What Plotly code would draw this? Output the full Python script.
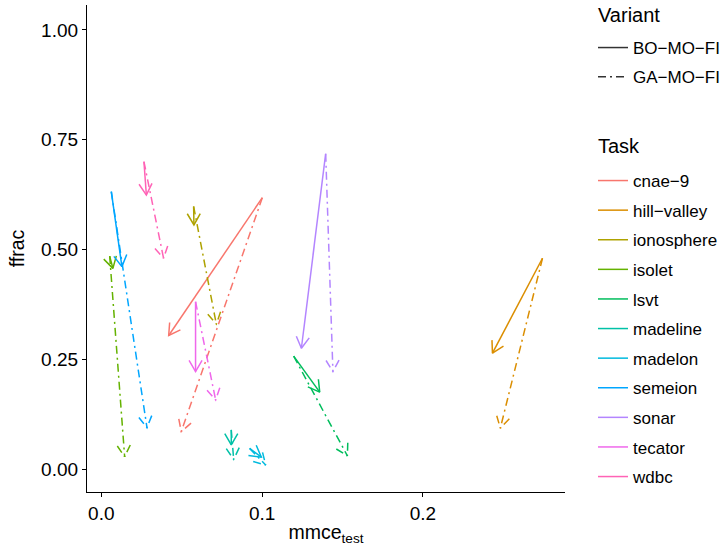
import math
import plotly.graph_objects as go

# ---------------- data ----------------
tasks = ["cnae−9", "hill−valley", "ionosphere", "isolet", "lsvt", "madeline",
         "madelon", "semeion", "sonar", "tecator", "wdbc"]
colors = ["#F8766D", "#DB8E00", "#AEA200", "#64B200", "#00BD5C", "#00C1A7",
          "#00BADE", "#00A6FF", "#B385FF", "#EF67EB", "#FF63B6"]
# start point (shared by both variants)
start_x = [0.1001, 0.2743, 0.0574, 0.0052, 0.1196, 0.0808, 0.0922, 0.0062, 0.1395, 0.0586, 0.0265]
start_y = [0.618, 0.480, 0.598, 0.485, 0.257, 0.089, 0.047, 0.632, 0.718, 0.381, 0.700]
# end points, variant BO-MO-FI (solid)
bo_x = [0.0419, 0.2432, 0.0576, 0.0072, 0.1358, 0.0808, 0.0995, 0.0128, 0.1244, 0.0586, 0.0280]
bo_y = [0.304, 0.264, 0.556, 0.457, 0.175, 0.055, 0.027, 0.461, 0.275, 0.222, 0.624]
# end points, variant GA-MO-FI (dot-dash)
ga_x = [0.0497, 0.2481, 0.0715, 0.0145, 0.1530, 0.0823, 0.1022, 0.0284, 0.1440, 0.0711, 0.0387]
ga_y = [0.085, 0.093, 0.330, 0.028, 0.030, 0.022, 0.009, 0.094, 0.222, 0.157, 0.480]

variants = ["BO−MO−FI", "GA−MO−FI"]
variant_dash = ["solid", "8px,4px,2px,4px"]

x_ticks = [0.0, 0.1, 0.2]
y_ticks = [0.0, 0.25, 0.5, 0.75, 1.0]

# ---------------- layout geometry ----------------
W, H = 722, 547
ML, MR, MT, MB = 87, 157, 5, 55
XR = [-0.0089, 0.2883]
YR = [-0.0524, 1.0569]
PW, PH = W - ML - MR, H - MT - MB
SX = PW / (XR[1] - XR[0])
SY = PH / (YR[1] - YR[0])
HEAD_LEN = 13.0
HEAD_ANG = math.radians(30)
LW = 1.5
FONT = "Liberation Sans, Arial, sans-serif"


def arrow_xy(x0, y0, x1, y1):
    dx, dy = (x1 - x0) * SX, (y1 - y0) * SY
    n = math.hypot(dx, dy) or 1.0
    bx, by = -dx / n, -dy / n
    xs, ys = [x0, x1, None], [y0, y1, None]
    hx, hy = [], []
    for a in (HEAD_ANG, -HEAD_ANG):
        rx = bx * math.cos(a) - by * math.sin(a)
        ry = bx * math.sin(a) + by * math.cos(a)
        hx.append(x1 + HEAD_LEN * rx / SX)
        hy.append(y1 + HEAD_LEN * ry / SY)
    xs += [hx[0], x1, hx[1]]
    ys += [hy[0], y1, hy[1]]
    return xs, ys


def px_x(p):
    return (p - ML) / PW


def px_y(p):
    return (H - MB - p) / PH


fig = go.Figure()
for i, t in enumerate(tasks):
    for ex, ey, dash in ((bo_x, bo_y, variant_dash[0]), (ga_x, ga_y, variant_dash[1])):
        xs, ys = arrow_xy(start_x[i], start_y[i], ex[i], ey[i])
        fig.add_trace(go.Scatter(x=xs, y=ys, mode="lines", showlegend=False,
                                 line=dict(color=colors[i], width=LW, dash=dash),
                                 hoverinfo="skip"))

# legend entries: Variant
for v, d in zip(variants, variant_dash):
    fig.add_trace(go.Scatter(x=[None], y=[None], mode="lines", name=v,
                             legendgroup="v" + v, legend="legend",
                             line=dict(color="#333333", width=LW, dash=d)))
# legend entries: Task
for t, c in zip(tasks, colors):
    fig.add_trace(go.Scatter(x=[None], y=[None], mode="lines", name=t,
                             legendgroup="t" + t, legend="legend2",
                             line=dict(color=c, width=LW)))

axis_common = dict(showgrid=False, zeroline=False, showline=True, linecolor="black",
                   linewidth=1.3, ticks="outside", ticklen=4, tickcolor="black",
                   tickwidth=1.2, tickfont=dict(size=19, color="black", family=FONT))

fig.update_layout(
    width=W, height=H,
    margin=dict(l=ML, r=MR, t=MT, b=MB, autoexpand=False),
    plot_bgcolor="white", paper_bgcolor="white",
    font=dict(family=FONT, color="black"),
    xaxis=dict(range=XR, tickvals=x_ticks, ticktext=[f"{v:.1f}" for v in x_ticks],
               title=dict(text="mmce<sub>test</sub>", font=dict(size=19.5), standoff=2),
               **axis_common),
    yaxis=dict(range=YR, tickvals=y_ticks, ticktext=[f"{v:.2f}" for v in y_ticks],
               title=dict(text="ffrac", font=dict(size=19.5), standoff=11),
               **axis_common),
    legend=dict(x=px_x(593), xanchor="left", y=px_y(30), yanchor="top",
                font=dict(size=17), tracegroupgap=4, bgcolor="rgba(0,0,0,0)"),
    legend2=dict(x=px_x(593), xanchor="left", y=px_y(163), yanchor="top",
                 font=dict(size=17), tracegroupgap=4.5, bgcolor="rgba(0,0,0,0)"),
    annotations=[
        dict(text="Variant", xref="paper", yref="paper", x=px_x(596), y=px_y(15),
             xanchor="left", yanchor="middle", showarrow=False, font=dict(size=20)),
        dict(text="Task", xref="paper", yref="paper", x=px_x(596), y=px_y(146),
             xanchor="left", yanchor="middle", showarrow=False, font=dict(size=20)),
    ],
)

fig.write_html("out.html", config={"displayModeBar": False},
               post_script="document.body.style.margin='0';")
